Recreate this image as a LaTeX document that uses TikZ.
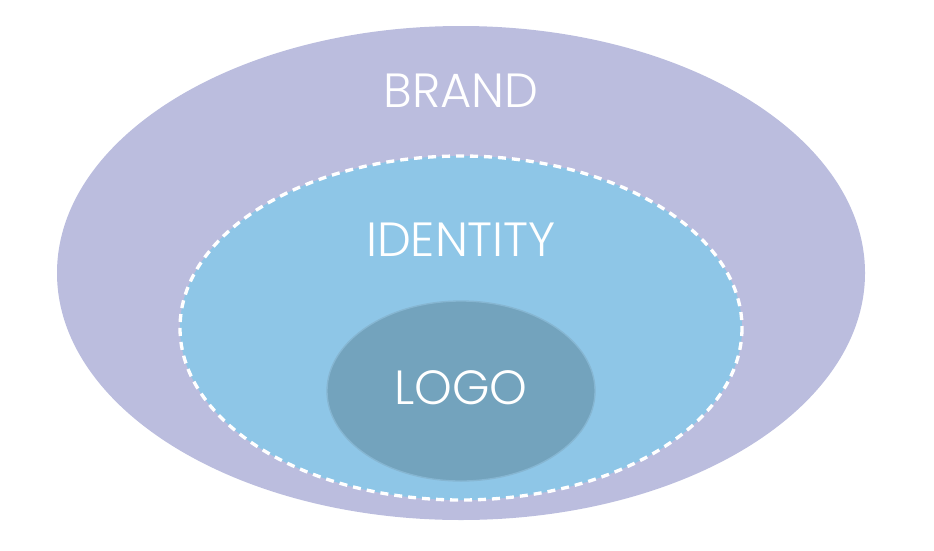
\documentclass[tikz,border=0pt]{standalone}
\usepackage{fontspec}
\setmainfont{Poppins Light}
\usepackage{xcolor}
\usepackage{tikz}
\usetikzlibrary{calc}
\definecolor{brandcol}{HTML}{BBBDDE}
\definecolor{identcol}{HTML}{8EC6E7}
\definecolor{logocol}{HTML}{73A3BD}
\definecolor{logoedge}{HTML}{86B6D2}
\tikzset{lbl/.style={text=white,anchor=base,font=\fontsize{36}{40}\selectfont}}
\begin{document}
\begin{tikzpicture}[x=0.75pt,y=-0.75pt]
\useasboundingbox (0,0) rectangle (934,550);
\fill[brandcol] (461,273) ellipse [x radius=404,y radius=247];
\fill[identcol] (461,328) ellipse [x radius=281,y radius=172];
\draw[white,line width=2.5pt,dash pattern=on 6pt off 4.5pt] (461,328) ellipse [x radius=281,y radius=172];
\fill[logocol] (461,391) ellipse [x radius=134,y radius=90];
\draw[logoedge,line width=1pt] (461,391) ellipse [x radius=134,y radius=90];
\node[lbl] (brand) at (461,107) {BRAND};
\node[lbl] (identity) at (461,256) {IDENTITY};
\node[lbl] (logo) at (461,404) {LOGO};
\end{tikzpicture}
\end{document}
